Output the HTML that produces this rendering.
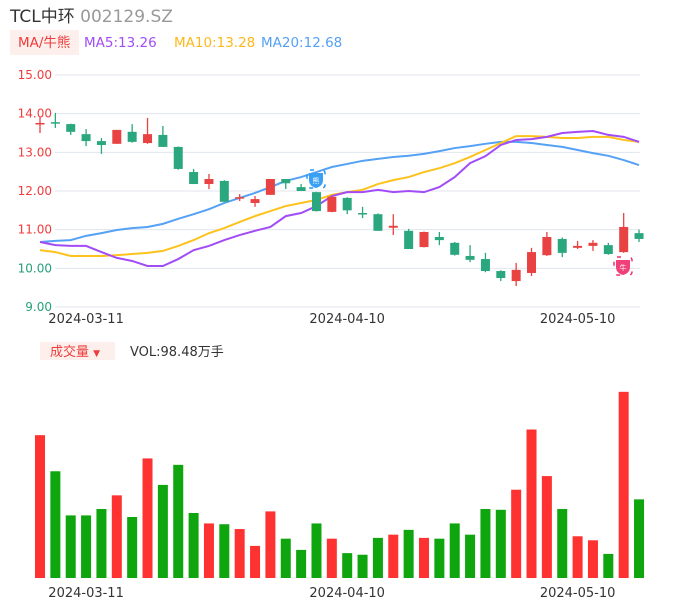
<!DOCTYPE html>
<html><head><meta charset="utf-8">
<style>
body{margin:0;background:#fff;font-family:"DejaVu Sans","Noto Sans CJK SC",sans-serif;}
svg{display:block}
</style></head>
<body>
<svg id="c" width="686" height="606" font-family="DejaVu Sans, Noto Sans CJK SC, sans-serif">
<text x="10" y="22" font-size="17" fill="#333">TCL中环 <tspan fill="#999">002129.SZ</tspan></text>
<rect x="10" y="30" width="69" height="25" fill="#fdf0ec"/>
<text x="18" y="47" font-size="13.5" fill="#f03c3c">MA/牛熊</text>
<text x="84" y="47" font-size="13.5" fill="#a24cf6">MA5:13.26</text>
<text x="174" y="47" font-size="13.5" fill="#fdb81c">MA10:13.28</text>
<text x="261" y="47" font-size="13.5" fill="#55a1f5">MA20:12.68</text>
<g id="grid"></g><g id="ma"></g><g id="candles"></g><g id="vol"></g>
<rect x="40" y="342" width="75" height="18" fill="#fdf0ec"/>
<text x="50" y="356" font-size="13" fill="#f03c3c">成交量 <tspan font-size="9">▼</tspan></text>
<text x="130" y="356" font-size="13" fill="#333">VOL:98.48万手</text>
<g><rect x="307" y="170" width="18" height="18" rx="3" fill="none" stroke="#2196f3" stroke-dasharray="4 10" stroke-width="1.5"/><path d="M309,173 h14 v7 q0,6 -7,8 q-7,-2 -7,-8z" fill="#3aa0f5"/><text x="316" y="183" font-size="7" fill="#fff" text-anchor="middle">熊</text></g>
<g><rect x="614" y="257" width="18" height="18" rx="3" fill="none" stroke="#f0306a" stroke-dasharray="4 10" stroke-width="1.5"/><path d="M616,260 h14 v7 q0,6 -7,8 q-7,-2 -7,-8z" fill="#f0407a"/><text x="623" y="270" font-size="7" fill="#fff" text-anchor="middle">牛</text></g>
</svg>
<script>
const opens=[13.72,13.78,13.73,13.47,13.29,13.22,13.53,13.24,13.45,13.14,12.49,12.18,12.26,11.82,11.69,11.90,12.31,12.10,11.97,11.46,11.82,11.43,11.40,11.05,10.97,10.55,10.81,10.66,10.32,10.24,9.93,9.67,9.88,10.34,10.76,10.53,10.58,10.60,10.42,10.91];
const closes=[13.76,13.75,13.53,13.29,13.19,13.58,13.27,13.47,13.14,12.57,12.18,12.31,11.72,11.84,11.79,12.31,12.20,12.00,11.48,11.85,11.50,11.40,10.97,11.10,10.50,10.94,10.73,10.35,10.22,9.93,9.75,9.96,10.42,10.81,10.40,10.58,10.66,10.37,11.07,10.76];
const highs=[13.90,14.02,13.74,13.60,13.37,13.58,13.73,13.89,13.68,13.15,12.57,12.44,12.28,11.92,11.87,12.31,12.31,12.18,11.98,11.86,11.84,11.59,11.42,11.40,11.02,10.95,10.94,10.68,10.60,10.40,9.95,10.14,10.53,10.94,10.80,10.71,10.73,10.66,11.43,11.00];
const lows=[13.50,13.63,13.45,13.16,12.96,13.22,13.25,13.22,13.14,12.55,12.18,12.05,11.72,11.74,11.59,11.90,12.05,12.00,11.47,11.45,11.40,11.30,10.97,10.86,10.50,10.54,10.60,10.33,10.16,9.90,9.67,9.54,9.80,10.32,10.29,10.50,10.45,10.35,10.40,10.68];
const ma5=[10.68,10.60,10.58,10.58,10.42,10.27,10.19,10.06,10.06,10.24,10.47,10.58,10.73,10.86,10.97,11.07,11.35,11.43,11.61,11.87,11.97,11.97,12.03,11.97,12.00,11.97,12.10,12.36,12.72,12.90,13.19,13.32,13.34,13.40,13.50,13.53,13.55,13.45,13.40,13.27];
const ma10=[10.47,10.42,10.32,10.32,10.32,10.34,10.37,10.40,10.45,10.58,10.73,10.91,11.04,11.20,11.35,11.48,11.61,11.69,11.77,11.90,11.97,12.03,12.18,12.28,12.36,12.49,12.59,12.72,12.88,13.06,13.24,13.42,13.42,13.40,13.37,13.37,13.40,13.40,13.32,13.27];
const ma20=[10.68,10.71,10.73,10.84,10.91,10.99,11.04,11.07,11.15,11.28,11.40,11.53,11.69,11.82,11.95,12.10,12.26,12.36,12.49,12.62,12.70,12.78,12.83,12.88,12.91,12.96,13.03,13.11,13.16,13.22,13.27,13.27,13.24,13.19,13.14,13.06,12.98,12.91,12.80,12.67];
const volumes=[178,133,78,78,86,103,76,149,116,141,81,68,67,61,40,83,49,35,68,49,31,29,50,54,60,50,49,68,54,86,85,110,185,127,86,52,47,30,232,98];
const priceTicks=[15,14,13,12,11,10,9];
const dateLabels=["2024-03-11","2024-04-10","2024-05-10"];
const dateIdx=[3,20,35];

const NS="http://www.w3.org/2000/svg";
const X=i=>40+i*15.36;
const Y=p=>307-(p-9)*38.67;
const V=v=>578-v*0.8025;
function mk(tag,attrs,parent){const e=document.createElementNS(NS,tag);for(const k in attrs)e.setAttribute(k,attrs[k]);parent.appendChild(e);return e;}
const grid=document.getElementById('grid'),ma=document.getElementById('ma'),cg=document.getElementById('candles'),vg=document.getElementById('vol'),svg=document.getElementById('c');
priceTicks.forEach(p=>{
  const l=mk('line',{x1:55,x2:640,y1:Y(p),y2:Y(p),stroke:'#e1e4ef','stroke-width':1},grid);
  
  
  const t=mk('text',{x:52,y:Y(p)+4,'font-size':12,'text-anchor':'end',fill:p>=11?'#f03c3c':'#26a17a'},grid);
  t.textContent=p.toFixed(2);
  
  
});
dateLabels.forEach((d,k)=>{
  [323,597].forEach(y=>{
    const t=mk('text',{x:X(dateIdx[k]),y:y,'font-size':13,'text-anchor':'middle',fill:'#333'},svg);
    t.textContent=d;
    
    
  });
});
[[ma20,'#55a1f5','ma20-line'],[ma10,'#fdc21c','ma10-line'],[ma5,'#a24cf6','ma5-line']].forEach(([arr,c,n])=>{
  const p=mk('polyline',{points:arr.map((v,i)=>X(i)+','+Y(v)).join(' '),fill:'none',stroke:c,'stroke-width':2},ma);
  
  
});
opens.forEach((o,i)=>{
  const c=closes[i],up=c>=o,col=up?'#e84242':'#2aa77f';
  const g=mk('g',{},cg);
  
  
  mk('line',{x1:X(i),x2:X(i),y1:Y(highs[i]),y2:Y(lows[i]),stroke:col,'stroke-width':1.3},g);
  const top=Y(Math.max(o,c)),h=Math.max(1.5,Math.abs(Y(o)-Y(c)));
  mk('rect',{x:X(i)-4.5,y:top,width:9,height:h,fill:col},g);
  const vb=mk('rect',{x:X(i)-5,y:V(volumes[i]),width:10,height:578-V(volumes[i]),fill:up?'#ff3232':'#0ea50e'},vg);
  
  
});
</script>
</body></html>
